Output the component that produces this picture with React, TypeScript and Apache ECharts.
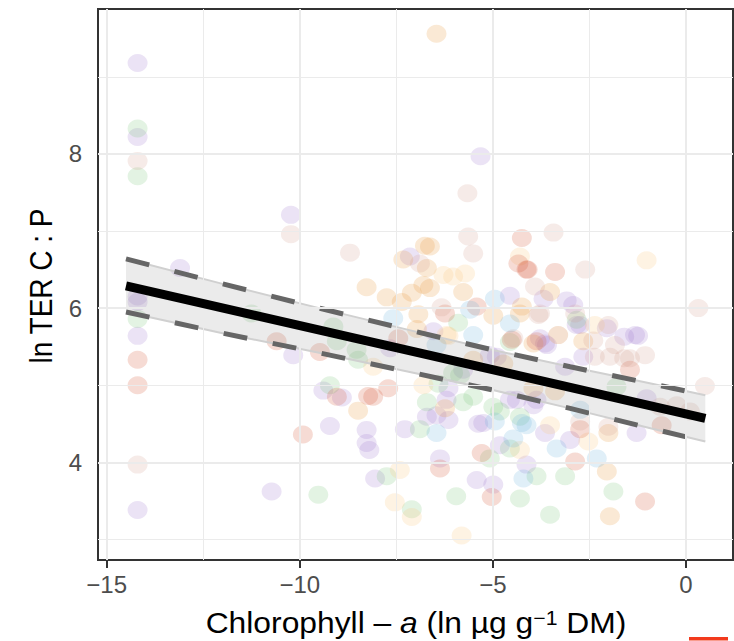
import React, { useEffect, useRef } from "react";
import * as echarts from "echarts";

// ---- axis settings ----
const xTicks = [-15, -10, -5, 0];
const yTicks = [4, 6, 8];
const xGridMajor = [-15, -10, -5, 0];
const xGridMinor = [-12.5, -7.5, -2.5];
const yGridMajor = [4, 6, 8];
const yGridMinor = [3, 5, 7, 9];
const xMin = -15.225;
const xMax = 1.217;
const yMin = 2.732;
const yMax = 9.881;

// ---- regression fit & confidence band ----
const fitX = [-14.5, 0.5];
const fitY = [6.29, 4.57];
const bandX = [-14.5, -12, -9.5, -7, -5, -3, -1, 0.5];
const ciUpper = [6.64, 6.315, 6.0, 5.695, 5.457, 5.239, 5.031, 4.87];
const ciLower = [5.95, 5.675, 5.42, 5.155, 4.937, 4.699, 4.451, 4.27];

// ---- observations, grouped by colour ----
const purplePts = [
  [-14.2, 9.18], [-14.2, 8.22], [-14.2, 6.15], [-14.2, 6.08], [-14.2, 5.64], [-14.2, 3.38],
  [-13.1, 6.52], [-10.23, 7.21], [-10.17, 5.39], [-9.39, 4.93], [-8.91, 4.84], [-9.22, 4.47],
  [-8.27, 4.42], [-8.27, 4.25], [-8.2, 4.16], [-10.73, 3.62], [-8.05, 3.79], [-7.28, 4.43],
  [-6.71, 4.59], [-6.46, 4.61], [-6.15, 4.55], [-6.15, 4.96], [-6.2, 4.81], [-5.38, 4.5],
  [-5.25, 4.51], [-4.38, 4.81], [-4.82, 4.22], [-4.13, 3.97], [-6.37, 4.05], [-5.42, 3.77],
  [-4.99, 3.71], [-3.95, 4.74], [-3.65, 4.38], [-3.0, 4.29], [-1.28, 4.38], [-1.02, 4.83],
  [-5.32, 7.97], [-7.15, 6.67], [-4.56, 6.16], [-6.54, 5.7], [-7.66, 5.48], [-5.08, 5.39],
  [-4.9, 5.37], [-5.77, 5.2], [-3.69, 6.12], [-3.09, 6.1], [-2.83, 5.78], [-2.05, 5.74],
  [-1.24, 5.64], [-3.65, 5.54], [-2.66, 5.37], [-3.13, 5.24], [-2.92, 6.04], [-2.74, 5.78],
  [-3.78, 5.61], [-3.6, 5.52], [-1.32, 5.65], [-4.56, 4.81], [-3.87, 4.81], [-1.6, 5.63],
];
const greenPts = [
  [-14.2, 8.33], [-14.2, 7.71], [-14.2, 5.86], [-11.25, 5.93], [-9.13, 5.76], [-9.04, 5.57],
  [-8.53, 5.46], [-8.49, 5.33], [-9.22, 5.0], [-9.52, 3.58], [-6.89, 4.43], [-6.71, 4.78],
  [-6.41, 5.02], [-5.77, 4.78], [-5.51, 4.85], [-4.99, 4.72], [-4.82, 4.66], [-5.08, 4.05],
  [-4.56, 4.18], [-7.75, 3.82], [-7.1, 3.39], [-5.95, 3.56], [-4.3, 3.53], [-1.88, 3.62],
  [-3.52, 3.32], [-3.13, 3.82], [-3.87, 3.82], [-1.8, 4.98], [-5.9, 5.81], [-4.56, 5.56],
  [-6.03, 5.16], [-2.83, 5.85], [-5.85, 5.13], [-4.3, 4.59],
];
const orangePts = [
  [-8.27, 6.27], [-7.75, 6.14], [-7.36, 6.08], [-7.1, 6.2], [-6.63, 6.26], [-6.8, 6.3],
  [-7.32, 6.63], [-6.76, 6.81], [-6.63, 6.8], [-6.71, 6.52], [-5.77, 6.21], [-6.93, 5.92],
  [-4.99, 5.9], [-4.25, 6.02], [-6.97, 5.73], [-8.49, 4.67], [-6.24, 4.7], [-6.46, 9.56],
  [-3.52, 6.21], [-2.66, 5.57], [-2.01, 4.38], [-2.05, 3.88], [-1.97, 3.3], [-5.51, 5.33],
  [-4.3, 5.93], [-3.95, 5.54], [-4.73, 5.28], [-3.95, 4.96], [-3.39, 4.92],
];
const peachPts = [
  [-8.1, 5.24], [-6.28, 6.43], [-6.03, 6.41], [-5.72, 6.45], [-4.3, 6.67], [-6.15, 5.64],
  [-1.02, 6.62], [-2.36, 5.78], [-3.31, 5.65], [-7.41, 3.9], [-7.54, 3.48], [-7.1, 3.29],
  [-5.81, 3.05], [-4.3, 4.16], [-3.52, 4.48], [-2.53, 4.27], [-6.8, 5.0], [-6.2, 5.65],
];
const redPts = [
  [-14.2, 5.33], [-14.2, 5.0], [-10.6, 5.57], [-9.48, 5.43], [-9.04, 4.85], [-8.23, 4.86],
  [-9.92, 4.36], [-8.1, 4.85], [-7.71, 4.96], [-5.29, 4.12], [-6.37, 3.92], [-5.03, 3.55],
  [-2.74, 4.43], [-0.63, 4.48], [-2.87, 4.01], [-1.06, 3.49], [-4.25, 6.91], [-4.34, 6.58],
  [-4.1, 6.5], [-6.24, 5.93], [-5.42, 6.02], [-7.45, 5.61], [-4.51, 5.59], [-4.13, 6.5],
  [-3.39, 6.47], [-3.87, 5.57], [-1.45, 5.2],
];
const pinkPts = [
  [-14.2, 7.91], [-14.2, 3.97], [-10.23, 6.96], [-8.7, 6.72], [-6.89, 6.58], [-5.64, 6.93],
  [-5.51, 6.71], [-6.33, 6.01], [-5.66, 7.49], [-3.43, 6.98], [-2.61, 6.5], [-3.91, 6.28],
  [-3.82, 5.91], [-2.87, 5.93], [-2.01, 5.78], [-1.84, 5.52], [-1.06, 5.39], [-1.45, 5.35],
  [-2.36, 5.37], [-1.97, 5.37], [0.32, 6.0], [0.49, 4.99], [-2.01, 4.46], [-0.67, 4.72],
  [-0.24, 4.74], [0.1, 4.66], [-3.78, 5.93], [-3.31, 5.65], [-2.4, 5.58], [-4.47, 5.61],
  [-1.6, 5.35], [-2.74, 4.53],
];
const bluePts = [
  [-6.46, 4.38], [-4.95, 4.53], [-4.25, 4.51], [-4.47, 4.31], [-4.21, 3.79], [-4.13, 4.48],
  [-3.35, 4.18], [-2.31, 4.05], [-5.59, 5.98], [-4.95, 6.12], [-4.56, 5.8], [-7.58, 5.87],
  [-5.51, 5.65], [-6.46, 5.52], [-2.74, 4.68],
];

const groups = [
  { name: "purple", data: purplePts, color: "rgba(160,120,205,0.26)" },
  { name: "green", data: greenPts, color: "rgba(110,190,110,0.24)" },
  { name: "orange", data: orangePts, color: "rgba(232,152,62,0.27)" },
  { name: "peach", data: peachPts, color: "rgba(250,200,130,0.28)" },
  { name: "red", data: redPts, color: "rgba(212,80,50,0.26)" },
  { name: "pink", data: pinkPts, color: "rgba(210,150,135,0.24)" },
  { name: "blue", data: bluePts, color: "rgba(100,175,222,0.25)" },
];

const FONT = "'Liberation Sans', Arial, Helvetica, sans-serif";

const fmt = (v: number) => (v < 0 ? "\u2212" + Math.abs(v) : String(v));

export default function App() {
  const ref = useRef<HTMLDivElement>(null);
  useEffect(() => {
    if (!ref.current) return;
    const chart = echarts.init(ref.current, null, { renderer: "svg" });
    const gridLines: any[] = [];
    xGridMajor.forEach((v) => gridLines.push({ xAxis: v, lineStyle: { width: 2, color: "#EBEBEB", type: "solid" } }));
    xGridMinor.forEach((v) => gridLines.push({ xAxis: v, lineStyle: { width: 1, color: "#EBEBEB", type: "solid" } }));
    yGridMajor.forEach((v) => gridLines.push({ yAxis: v, lineStyle: { width: 2, color: "#EBEBEB", type: "solid" } }));
    yGridMinor.forEach((v) => gridLines.push({ yAxis: v, lineStyle: { width: 1, color: "#EBEBEB", type: "solid" } }));

    const option: any = {
      animation: false,
      backgroundColor: "#ffffff",
      grid: { left: 98, right: 1, top: 9, bottom: 81, show: true, borderColor: "#333333", borderWidth: 2, backgroundColor: "transparent", containLabel: false },
      xAxis: {
        type: "value", min: xMin, max: xMax,
        axisLine: { show: false },
        splitLine: { show: false },
        axisTick: { show: true, customValues: xTicks, length: 8, lineStyle: { color: "#333333", width: 2 } },
        axisLabel: { customValues: xTicks, formatter: fmt, fontSize: 24, color: "#4D4D4D", margin: 12, fontFamily: FONT },
      },
      yAxis: {
        type: "value", min: yMin, max: yMax,
        axisLine: { show: false },
        splitLine: { show: false },
        axisTick: { show: true, customValues: yTicks, length: 8, lineStyle: { color: "#333333", width: 2 } },
        axisLabel: { customValues: yTicks, formatter: fmt, fontSize: 24, color: "#4D4D4D", margin: 16, fontFamily: FONT },
      },
      series: [
        {
          type: "scatter", data: [], z: 1, silent: true,
          markLine: { silent: true, symbol: ["none", "none"], label: { show: false }, data: gridLines, animation: false },
        },
        ...groups.map((g) => ({
          type: "scatter", name: g.name, data: g.data, z: 2,
          symbol: "circle", symbolSize: [20, 18],
          itemStyle: { color: g.color, borderWidth: 0 },
          silent: true,
        })),
        {
          type: "custom", z: 3, silent: true,
          data: bandX.map((x, i) => [x, ciLower[i], ciUpper[i]]),
          encode: { x: 0, y: [1, 2] },
          renderItem: (params: any, api: any) => {
            if (params.dataIndex !== 0) return null;
            const up = bandX.map((x, i) => api.coord([x, ciUpper[i]]));
            const lo = bandX.map((x, i) => api.coord([x, ciLower[i]]));
            return {
              type: "group",
              children: [
                { type: "polygon", shape: { points: up.concat(lo.slice().reverse()) }, style: { fill: "rgba(153,153,153,0.2)" } },
                { type: "polyline", shape: { points: up }, style: { stroke: "#D0D0D0", lineWidth: 2, fill: null } },
                { type: "polyline", shape: { points: lo }, style: { stroke: "#D0D0D0", lineWidth: 2, fill: null } },
              ],
            };
          },
        },
        {
          type: "line", z: 4, silent: true, showSymbol: false, symbol: "none",
          data: bandX.map((x, i) => [x, ciUpper[i]]),
          lineStyle: { color: "#666666", width: 5, type: [24, 26], cap: "butt" },
        },
        {
          type: "line", z: 4, silent: true, showSymbol: false, symbol: "none",
          data: bandX.map((x, i) => [x, ciLower[i]]),
          lineStyle: { color: "#666666", width: 5, type: [24, 26], cap: "butt" },
        },
        {
          type: "line", z: 5, silent: true, showSymbol: false, symbol: "none",
          data: fitX.map((x, i) => [x, fitY[i]]),
          lineStyle: { color: "#000000", width: 9, cap: "butt" },
        },
      ],
      graphic: [
        {
          type: "text", x: 416, y: 623, scaleX: 1.06, z: 10,
          style: {
            text: "Chlorophyll \u2013 {i|a} (ln \u00b5g g{sup|\u22121} DM)",
            fontSize: 30, fontFamily: FONT, fill: "#000000", align: "center", verticalAlign: "middle",
            rich: {
              i: { fontStyle: "italic", fontSize: 30, fontFamily: FONT, fill: "#000000" },
              sup: { fontSize: 20, fontFamily: FONT, fill: "#000000", verticalAlign: "top" },
            },
          },
        },
        {
          type: "text", x: 41, y: 286, rotation: Math.PI / 2, scaleY: 1.12, z: 10,
          style: { text: "ln TER C : P", fontSize: 28, fontFamily: FONT, fill: "#000000", align: "center", verticalAlign: "middle" },
        },
        {
          type: "rect", z: 10,
          shape: { x: 689, y: 637, width: 39, height: 3.5 },
          style: { fill: "#F23A1D" },
        },
      ],
    };
    chart.setOption(option);
    return () => chart.dispose();
  }, []);
  return (
    <div
      ref={ref}
      style={{ position: "absolute", left: 0, top: 0, width: 734, height: 641, background: "#fff" }}
    />
  );
}
